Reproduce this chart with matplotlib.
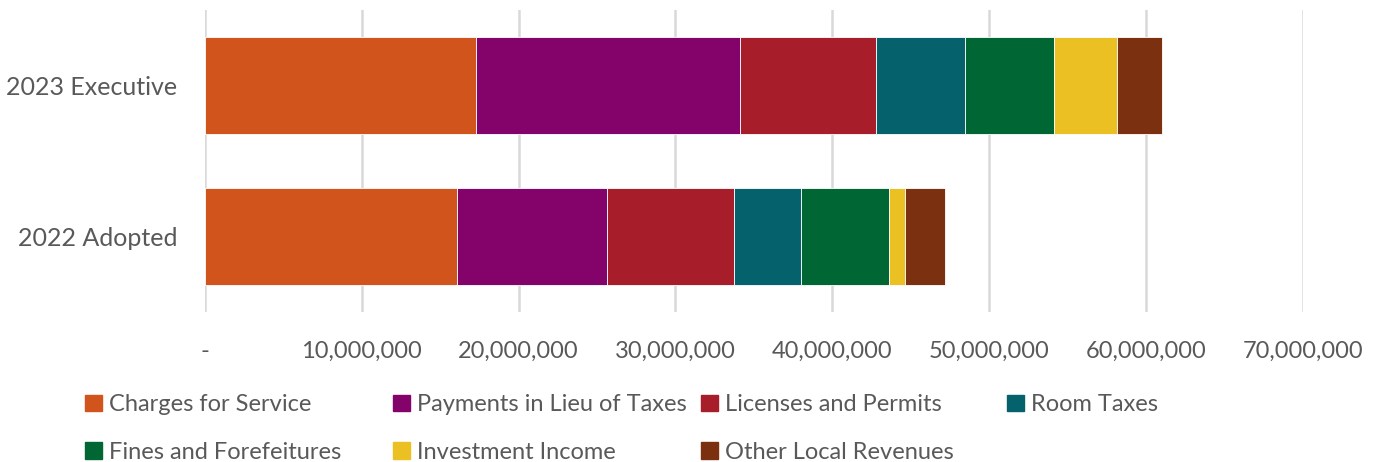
import matplotlib.pyplot as plt
import matplotlib.patches as mpatches
from matplotlib.ticker import FuncFormatter

plt.rcParams['font.family'] = ['Lato', 'DejaVu Sans']

budgets = ['2022 Adopted', '2023 Executive']
categories = ['Charges for Service', 'Payments in Lieu of Taxes', 'Licenses and Permits',
              'Room Taxes', 'Fines and Forefeitures', 'Investment Income', 'Other Local Revenues']
# values per category: [2022 Adopted, 2023 Executive]
charges = [16050000, 17260000]
pilot = [9590000, 16880000]
licenses = [8080000, 8650000]
room_taxes = [4310000, 5700000]
fines = [5590000, 5670000]
investment = [1000000, 3980000]
other_local = [2570000, 2910000]
series = [charges, pilot, licenses, room_taxes, fines, investment, other_local]
colors = ['#D0541B', '#84036B', '#A71D2A', '#05616B', '#006633', '#EBC023', '#7B3010']

grey = '#595959'

fig = plt.figure(figsize=(13.8, 4.62), dpi=100)
ax = fig.add_axes([0.1486, 0.325, 0.7953, 0.653])

left = [0, 0]
for vals, name, col in zip(series, categories, colors):
    ax.barh(budgets, vals, left=left, height=0.645, color=col,
            edgecolor='white', linewidth=0.6, label=name, zorder=3)
    left = [l + v for l, v in zip(left, vals)]

ax.set_xlim(0, 70000000)
ax.set_ylim(-0.5, 1.5)
ax.set_xticks(range(0, 70000001, 10000000))
ax.xaxis.set_major_formatter(FuncFormatter(lambda x, p: '-' if x == 0 else f'{int(x):,}'))
ax.grid(axis='x', color='#D9D9D9', linewidth=1.8, zorder=0)
ax.tick_params(axis='both', length=0, labelsize=17, labelcolor=grey)
ax.tick_params(axis='x', pad=21)
ax.tick_params(axis='y', pad=20, labelsize=18)
for s in ax.spines.values():
    s.set_visible(False)

# legend laid out like Excel: 4 equal-width columns, filled row by row
col_x = [0.0616, 0.2848, 0.508, 0.7297]
for c in range(4):
    idx = [i for i in (c, c + 4) if i < len(categories)]
    hs = [mpatches.Patch(color=colors[i]) for i in idx]
    fig.legend(hs, [categories[i] for i in idx], loc='upper left',
               bbox_to_anchor=(col_x[c], 0.147), frameon=False,
               fontsize=17, labelcolor=grey, handlelength=0.7, handleheight=0.7,
               handletextpad=0.3, labelspacing=1.12, borderaxespad=0, borderpad=0)

fig.savefig('out.png', dpi=100)
